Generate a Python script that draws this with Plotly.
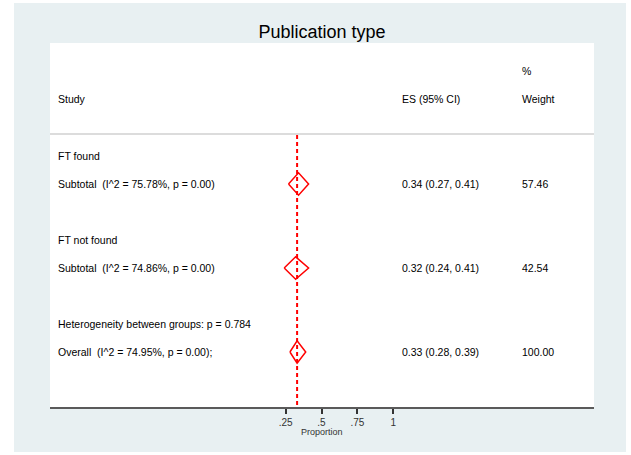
import plotly.graph_objects as go

# Subgroup pooled estimates
groups = ["FT found", "FT not found"]
group_es = [0.34, 0.32]
group_lo = [0.27, 0.24]
group_hi = [0.41, 0.41]
group_weight = [57.46, 42.54]
group_i2 = [75.78, 74.86]
group_p = [0.00, 0.00]

# Overall pooled estimate
overall_es = 0.33
overall_lo = 0.28
overall_hi = 0.39
overall_weight = 100.00
overall_i2 = 74.95
overall_p = 0.00
het_between_p = 0.784

tick_vals = [0.25, 0.5, 0.75, 1]
tick_text = [".25", ".5", ".75", "1"]

FONT = "Liberation Sans, Arial, Helvetica, sans-serif"
RED = "#FF0000"
BG = "#E8F0F2"

W, H = 631, 455
ML, MR, MT, MB = 50, 37, 43, 48

# x scale (data units) and row scale
X_MIN, X_MAX = -1.392, 2.399
Y_TOP, Y_BOT = -4.036, 8.964
COL_STUDY = -1.35
COL_ES = 1.047
COL_W = 1.885
HALF_H = 0.4

fig = go.Figure()

annotations = []


def txt(x, y, s, size=10.5, color="black"):
    annotations.append(dict(x=x, y=y, xref="x", yref="y", text=s, showarrow=False,
                            xanchor="left", yanchor="middle",
                            font=dict(family=FONT, size=size, color=color)))


def diamond(es, lo, hi, y):
    fig.add_trace(go.Scatter(
        x=[lo, es, hi, es, lo], y=[y, y - HALF_H, y, y + HALF_H, y],
        mode="lines", line=dict(color=RED, width=1.5), hoverinfo="skip",
        showlegend=False))


# header
txt(COL_W, -3.04, "%")
txt(COL_STUDY, -2.04, "Study")
txt(COL_ES, -2.04, "ES (95% CI)")
txt(COL_W, -2.04, "Weight")

row = 0
for g, es, lo, hi, w, i2, p in zip(groups, group_es, group_lo, group_hi,
                                    group_weight, group_i2, group_p):
    txt(COL_STUDY, row, g)
    txt(COL_STUDY, row + 1, f"Subtotal  (I^2 = {i2:.2f}%, p = {p:.2f})")
    txt(COL_ES, row + 1, f"{es:.2f} ({lo:.2f}, {hi:.2f})")
    txt(COL_W, row + 1, f"{w:.2f}")
    diamond(es, lo, hi, row + 1)
    row += 3

txt(COL_STUDY, row, f"Heterogeneity between groups: p = {het_between_p:.3f}")
txt(COL_STUDY, row + 1, f"Overall  (I^2 = {overall_i2:.2f}%, p = {overall_p:.2f});")
txt(COL_ES, row + 1, f"{overall_es:.2f} ({overall_lo:.2f}, {overall_hi:.2f})")
txt(COL_W, row + 1, f"{overall_weight:.2f}")
diamond(overall_es, overall_lo, overall_hi, row + 1)

# axis title
annotations.append(dict(x=0.5, y=-0.069, xref="x", yref="paper", text="Proportion",
                        showarrow=False, xanchor="center", yanchor="middle",
                        font=dict(family=FONT, size=9, color="#333333")))

pw = W - ML - MR
ph = H - MT - MB
shapes = [
    # outer graph region
    dict(type="rect", xref="paper", yref="paper", layer="below",
         x0=(14 - ML) / pw, x1=(626 - ML) / pw,
         y0=(H - MB - 452) / ph, y1=(H - MB - 3) / ph,
         fillcolor=BG, line=dict(width=0)),
    # plot region
    dict(type="rect", xref="paper", yref="paper", layer="below",
         x0=0, x1=1, y0=0, y1=1, fillcolor="white", line=dict(width=0)),
    # header separator
    dict(type="line", xref="paper", yref="y", x0=0, x1=1, y0=-0.79, y1=-0.79,
         line=dict(color="#DCDCDC", width=2)),
    # overall effect reference line
    dict(type="line", xref="x", yref="y", x0=overall_es, x1=overall_es,
         y0=-0.75, y1=Y_BOT, line=dict(color=RED, width=2, dash="4px,3px")),
]

fig.update_layout(
    width=W, height=H,
    margin=dict(l=ML, r=MR, t=MT, b=MB),
    paper_bgcolor="white", plot_bgcolor="white",
    title=dict(text="Publication type", x=0.5, xref="paper", xanchor="center",
               y=1 - 32 / H, yref="container", yanchor="middle",
               font=dict(family=FONT, size=18, color="black")),
    xaxis=dict(range=[X_MIN, X_MAX], showgrid=False, zeroline=False,
               showline=True, linecolor="#5A5A5A", linewidth=2,
               ticks="outside", ticklen=5, tickwidth=1.5, tickcolor="#333333",
               tickvals=tick_vals, ticktext=tick_text,
               tickfont=dict(family=FONT, size=10, color="#333333"),
               fixedrange=True),
    yaxis=dict(range=[Y_BOT, Y_TOP], visible=False, fixedrange=True),
    annotations=annotations,
    shapes=shapes,
    showlegend=False,
)

fig.write_html("out.html")
